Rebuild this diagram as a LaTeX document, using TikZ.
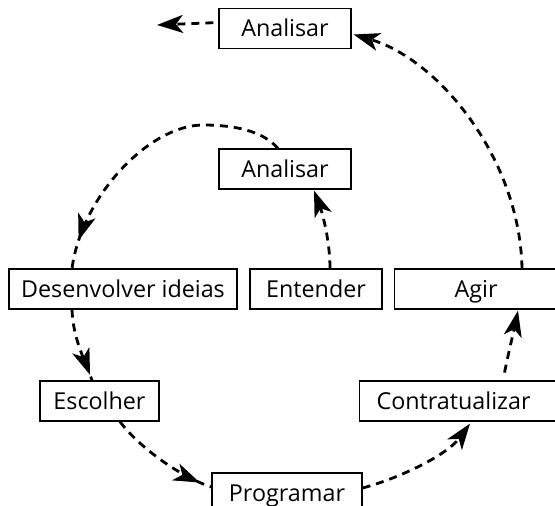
\documentclass[tikz,border=0pt]{standalone}
\usepackage{fontspec}
\setmainfont{Open Sans}
\usetikzlibrary{arrows.meta,calc,decorations.markings}

\begin{document}
\begin{tikzpicture}[x=1pt,y=-1pt,
  box/.style={draw, line width=1.2pt, minimum height=40pt, inner sep=0pt,
    text height=16.5pt, text depth=0pt, font=\fontsize{23.3}{28}\selectfont},
  openbox/.style={box, anchor=west, text width=#1, align=left},
  dashline/.style={line width=2.8pt, dash pattern=on 8pt off 6pt},
  flow/.style={dashline, -{Stealth[length=26pt,width=18pt,inset=7pt]}},
  midflow/.style={dashline, postaction={decorate},
    decoration={markings, mark=at position #1 with {\arrow{Stealth[length=26pt,width=18pt,inset=7pt]}}}}
]
\useasboundingbox (0,0) rectangle (555,506);
\clip (0,0) rectangle (555,506);

% boxes
\node[box, minimum width=132pt] (an1) at (285,28.5) {Analisar};
\node[box, minimum width=132pt] (an2) at (285,169) {Analisar};
\node[box, minimum width=228pt] (des) at (123,289) {Desenvolver ideias};
\node[box, minimum width=132pt] (ent) at (316,289) {Entender};
\node[openbox=200pt] (agir) at (394,289) {\hspace*{60pt}Agir};
\node[box, minimum width=119pt] (esc) at (99.5,401) {Escolher};
\node[openbox=220pt] (cont) at (359,401) {\hspace*{17pt}Contratualizar};
\node[box, minimum width=150pt] (prog) at (287,493) {Programar};

\coordinate (out) at (157,25);

% connectors
\draw[flow, shorten <=5pt] ($(an1.west)+(0,-6)$) -- (out);
\draw[flow] ($(agir.north west)+(128,0)$)
  .. controls (520,160) and (440,60) .. ($(an1.east)+(2,6)$);
\draw[flow] ($(ent.north)+(14,0)$)
  .. controls (330,240) and (322,212) .. ($(an2.south)+(29,1)$);
\draw[midflow=0.9] ($(an2.north)+(-7,0)$)
  .. controls (262,130) and (232,125) .. (203,125)
  .. controls (150,125) and (82,195) .. ($(des.north)+(-51,0)$);
\draw[midflow=0.92] ($(des.south)+(-51,0)$)
  .. controls (73,340) and (86,362) .. ($(esc.north)+(-7.5,0)$);
\draw[midflow=0.89] ($(esc.south)+(20.5,0)$)
  .. controls (137,445) and (178,476) .. ($(prog.west)+(0,-6)$);
\draw[flow] ($(prog.east)+(0,-5)$)
  .. controls (400,478) and (447,455) .. ($(cont.south west)+(111,2)$);
\draw[flow, shorten <=8pt] ($(cont.north west)+(144,0)$)
  .. controls (508,355) and (514,330) .. ($(agir.south west)+(124,1)$);
\end{tikzpicture}
\end{document}
